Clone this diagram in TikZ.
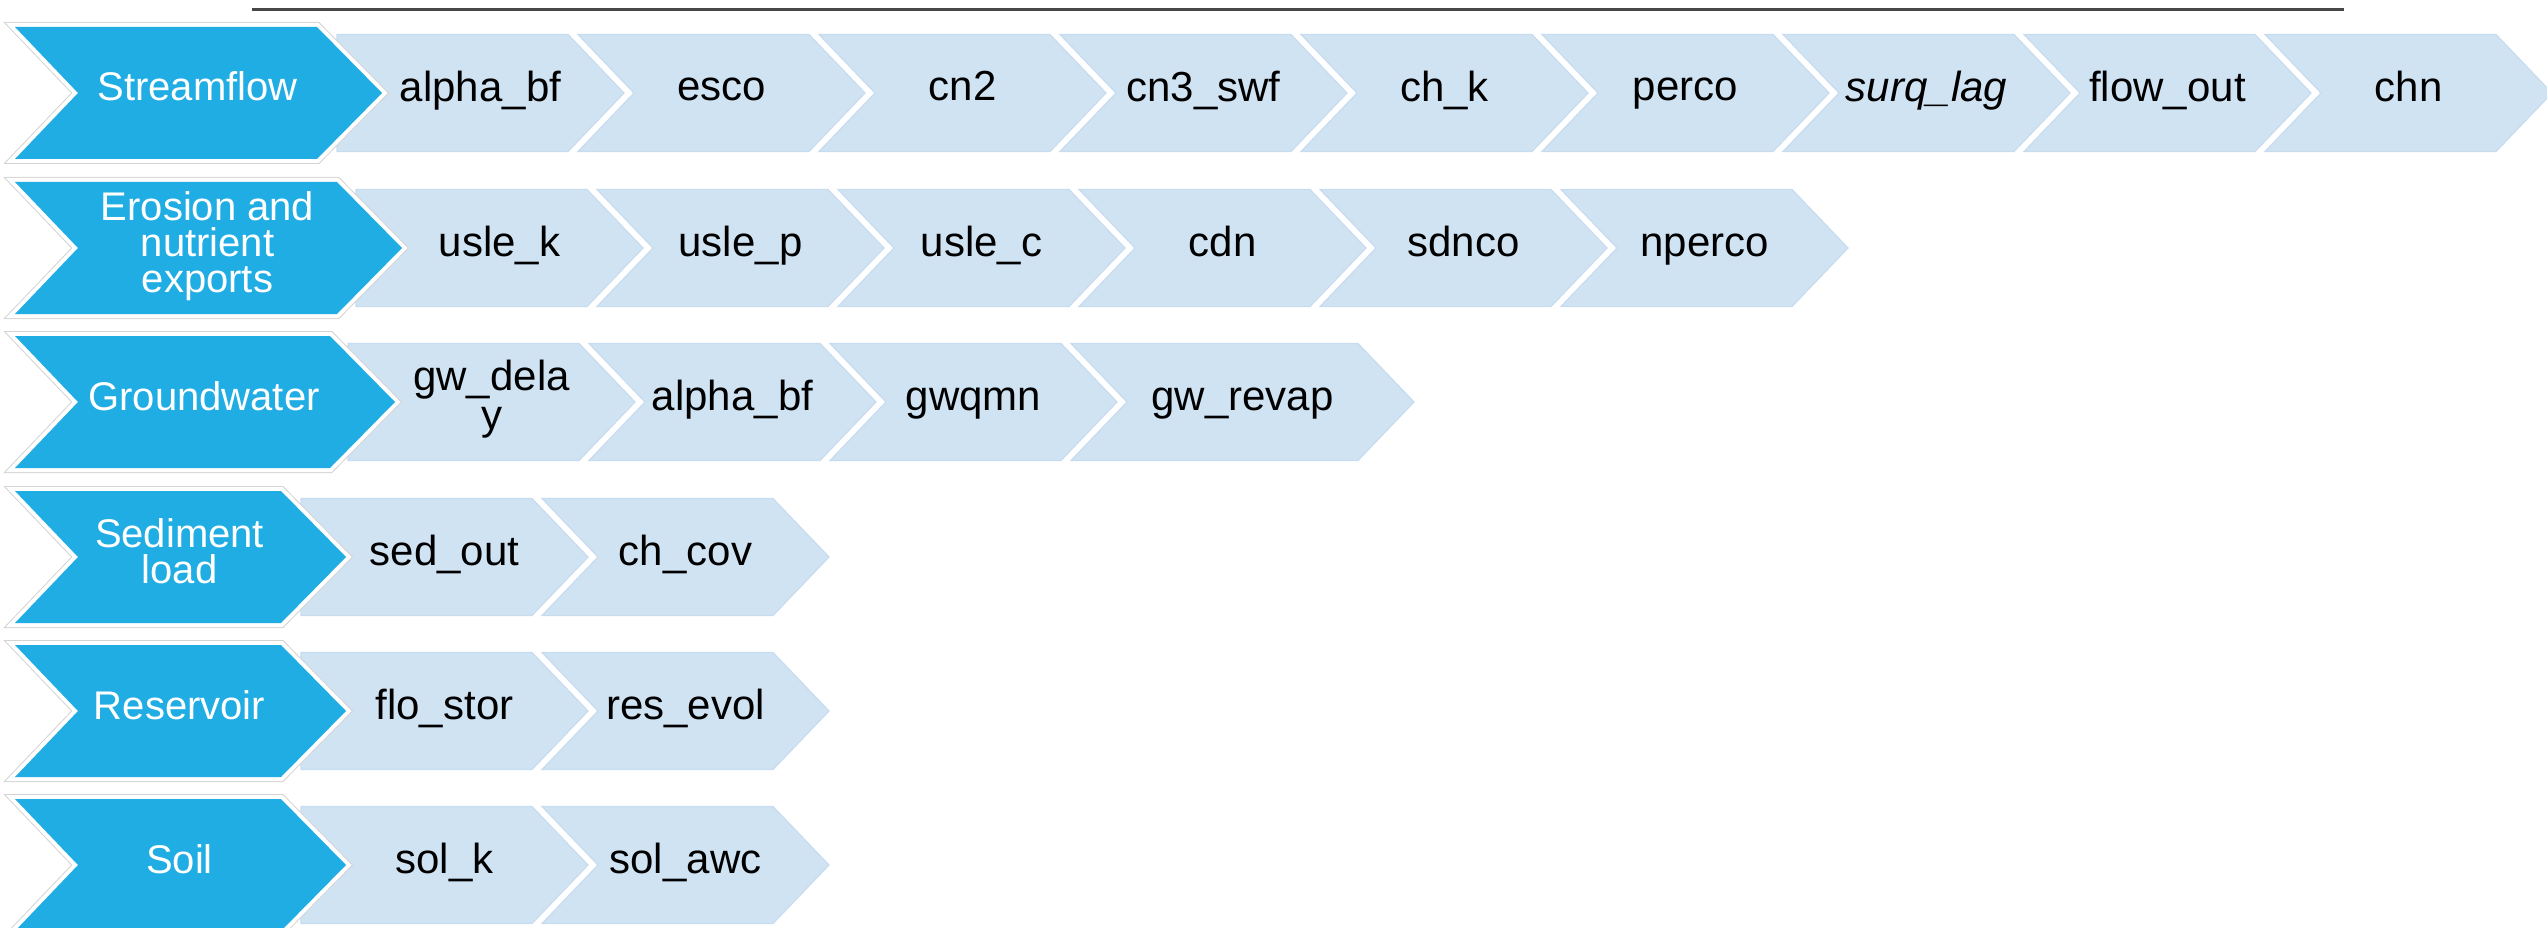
\documentclass[tikz,border=0pt]{standalone}
\usepackage{fontspec}
\setmainfont{Liberation Sans}
\definecolor{darkchev}{HTML}{1FADE3}
\definecolor{lightchev}{HTML}{D0E3F3}
\definecolor{lightedge}{HTML}{C8DCEF}
\definecolor{outlinegray}{HTML}{D4D4D4}
\definecolor{toplinecol}{HTML}{474747}
\newcommand\tst{\rule[-10pt]{0pt}{40pt}}
\newcommand\lightfont{\fontsize{42}{39}\selectfont\lineskiplimit -1000pt\relax}
\newcommand\darkfont{\fontsize{40}{36}\selectfont\lineskiplimit -1000pt\relax}
\tikzset{
  lightshape/.style={fill=lightchev, draw=lightedge, line width=1.2pt, line join=miter},
  darkouter/.style={draw=outlinegray, line width=10pt, line join=miter},
  darkwhite/.style={draw=white, line width=8pt, line join=miter},
  darkfill/.style={fill=darkchev},
  ltext/.style={font=\lightfont, text=black, align=center, inner sep=0pt, anchor=center},
  dtext/.style={font=\darkfont, text=white, align=center, inner sep=0pt, anchor=center},
  toprule/.style={draw=toplinecol, line width=3pt},
}
% light chevrons of one row: #1 row name, #2 left x of first, #3 centre y, #4 list text/width
\newcommand\lightrow[4]{%
  \foreach \tx/\cwid [count=\ci from 0] in {#4} {%
    \pgfmathsetmacro\xL{#2+241*\ci}%
    \ifnum\ci=0
      \path[lightshape] (\xL,#3-58.5) -- ++(\cwid,0) -- ++(56,58.5) -- ++(-56,58.5) -- ++(-\cwid,0) -- cycle;
    \else
      \path[lightshape] (\xL,#3-58.5) -- ++(\cwid,0) -- ++(56,58.5) -- ++(-56,58.5) -- ++(-\cwid,0) -- ++(56,-58.5) -- cycle;
    \fi
    \node[ltext] (#1-\ci) at ({\xL+(\cwid+56)/2},#3-2) {\tst\tx};
  }%
}
% dark chevron: #1 name, #2 right top x, #3 centre y, #4 text
\newcommand\darkchev[4]{%
  \foreach \st in {darkouter,darkwhite,darkfill} {%
    \path[\st] (15,#3-66) -- (#2,#3-66) -- (#2+65,#3) -- (#2,#3+66) -- (15,#3+66) -- (78,#3) -- cycle;
  }%
  \node[dtext] (#1) at ({(78+#2)/2},#3-2) {\tst #4};
}
\begin{document}
\begin{tikzpicture}[x=1pt,y=-1pt]
\useasboundingbox (0,0) rectangle (2547,928);
\clip (0,0) rectangle (2547,928);
\coordinate (lineA) at (252,10);
\coordinate (lineB) at (2344,10);
\draw[toprule] (lineA) -- (lineB);

\lightrow{r1}{337}{93}{alpha\_bf/231, esco/231, cn2/231, cn3\_swf/231, ch\_k/231, perco/231, \textit{surq\_lag}/231, flow\_out/231, chn/231}
\darkchev{h1}{317}{93}{Streamflow}

\lightrow{r2}{356}{248}{usle\_k/231, usle\_p/231, usle\_c/231, cdn/231, sdnco/231, nperco/231}
\darkchev{h2}{337}{248}{Erosion and\\\tst nutrient\\\tst exports}

\lightrow{r3}{348}{402}{{gw\_dela\\\tst y}/231, alpha\_bf/231, gwqmn/231, gw\_revap/287}
\darkchev{h3}{330}{402}{Groundwater}

\lightrow{r4}{301}{557}{sed\_out/231, ch\_cov/231}
\darkchev{h4}{281}{557}{Sediment\\\tst load}

\lightrow{r5}{301}{711}{flo\_stor/231, res\_evol/231}
\darkchev{h5}{281}{711}{Reservoir}

\lightrow{r6}{301}{865}{sol\_k/231, sol\_awc/231}
\darkchev{h6}{281}{865}{Soil}
\end{tikzpicture}
\end{document}
